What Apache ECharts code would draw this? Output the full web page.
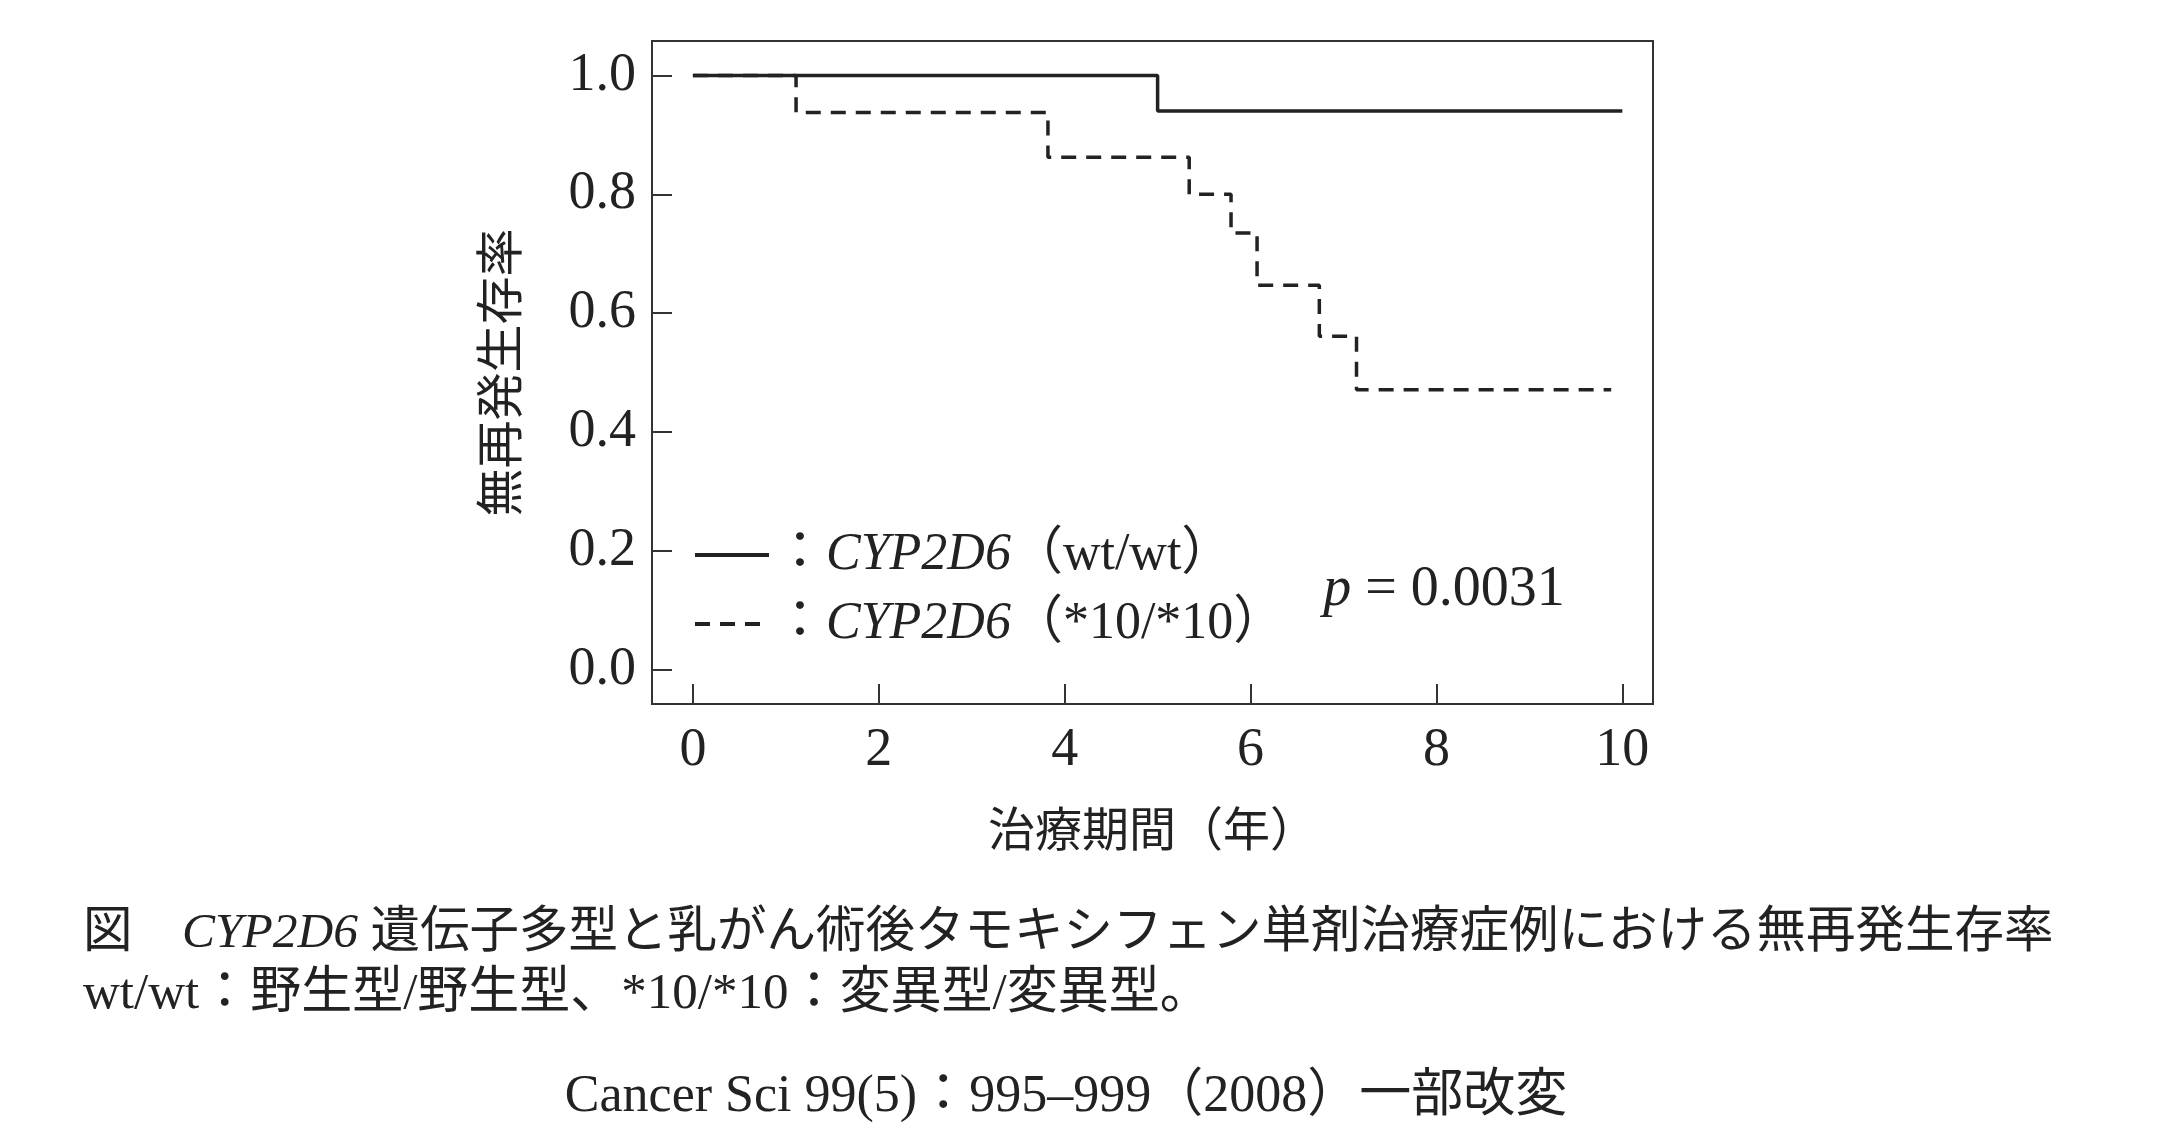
<!DOCTYPE html>
<html>
<head>
<meta charset="utf-8">
<script src="https://cdn.jsdelivr.net/npm/echarts/dist/echarts.min.js"></script>
<style>
  body { margin: 0; background: #fff; }
  #chart { width: 2160px; height: 1144px; }
</style>
</head>
<body>
<div id="chart"></div>
<script>
// 治療期間（年）と無再発生存率
const wtTimes = [0, 5.0, 10.0]
const wtSurv = [1.0, 0.94, 0.94]
const mutTimes = [0, 1.11, 3.82, 5.34, 5.79, 6.07, 6.74, 7.14, 9.88]
const mutSurv = [1.0, 0.9375, 0.8625, 0.80, 0.735, 0.647, 0.561, 0.471, 0.471]
const xTicks = [0, 2, 4, 6, 8, 10]
const yTicks = [0, 0.2, 0.4, 0.6, 0.8, 1.0]
const seriesNames = ['wt/wt', '*10/*10']

const serif = "'Liberation Serif', 'Noto Sans CJK JP', serif"
const ink = '#222'

const myChart = echarts.init(document.getElementById('chart'))

let option = {
  backgroundColor: '#fff',
  animation: false,
  grid: {
    left: 652,
    right: 507,
    top: 41,
    bottom: 440,
    show: true,
    borderColor: '#333',
    borderWidth: 2
  },
  legend: {
    orient: 'vertical',
    left: 688,
    top: 520,
    itemWidth: 74,
    itemHeight: 20,
    itemGap: 9,
    data: seriesNames,
    itemStyle: {opacity: 0},
    lineStyle: {width: 4},
    formatter: function (name) {
      return '：{i|CYP2D6}（' + name + '）'
    },
    textStyle: {
      fontFamily: serif,
      fontSize: 52,
      lineHeight: 60,
      color: ink,
      rich: {
        i: {fontFamily: serif, fontStyle: 'italic', fontSize: 52, color: ink}
      }
    }
  },
  xAxis: {
    type: 'value',
    min: -0.44,
    max: 10.33,
    name: '治療期間（年）',
    nameLocation: 'middle',
    nameGap: 106,
    nameTextStyle: {fontFamily: serif, fontSize: 47, color: ink},
    axisLine: {show: false, onZero: false},
    splitLine: {show: false},
    axisTick: {
      inside: true,
      length: 20,
      customValues: xTicks,
      lineStyle: {color: '#333', width: 2}
    },
    axisLabel: {
      customValues: xTicks,
      margin: 20,
      fontFamily: serif,
      fontSize: 54,
      color: ink
    }
  },
  yAxis: {
    type: 'value',
    min: -0.058,
    max: 1.058,
    name: '無再発生存率',
    nameLocation: 'middle',
    nameGap: 124,
    nameTextStyle: {fontFamily: serif, fontSize: 48, color: ink},
    axisLine: {show: false, onZero: false},
    splitLine: {show: false},
    axisTick: {
      inside: true,
      length: 20,
      customValues: yTicks,
      lineStyle: {color: '#333', width: 2}
    },
    axisLabel: {
      customValues: yTicks,
      margin: 16,
      fontFamily: serif,
      fontSize: 54,
      color: ink,
      formatter: v => v.toFixed(1)
    }
  },
  graphic: [
    {
      type: 'text',
      x: 1444,
      y: 590,
      style: {
        text: '{i|p} = 0.0031',
        font: '56px ' + serif,
        fill: ink,
        align: 'center',
        verticalAlign: 'middle',
        rich: {i: {fontFamily: serif, fontStyle: 'italic', fontSize: 56, fill: ink}}
      }
    },
    {
      type: 'text',
      x: 83,
      y: 934,
      style: {
        text: '図　{i|CYP2D6} 遺伝子多型と乳がん術後タモキシフェン単剤治療症例における無再発生存率',
        font: '49.5px ' + serif,
        fill: ink,
        verticalAlign: 'middle',
        rich: {i: {fontFamily: serif, fontStyle: 'italic', fontSize: 49.5, fill: ink}}
      }
    },
    {
      type: 'text',
      x: 83,
      y: 995,
      style: {
        text: 'wt/wt：野生型/野生型、*10/*10：変異型/変異型。',
        font: '51px ' + serif,
        fill: ink,
        verticalAlign: 'middle'
      }
    },
    {
      type: 'text',
      x: 1066,
      y: 1097,
      style: {
        text: 'Cancer Sci 99(5)：995–999（2008）一部改変',
        font: '52px ' + serif,
        fill: ink,
        align: 'center',
        verticalAlign: 'middle'
      }
    }
  ],
  series: [
    {
      name: seriesNames[0],
      type: 'line',
      step: 'end',
      symbol: 'none',
      data: wtTimes.map((t, i) => [t, wtSurv[i]]),
      lineStyle: {color: ink, width: 3.5, type: 'solid'},
      itemStyle: {color: ink}
    },
    {
      name: seriesNames[1],
      type: 'line',
      step: 'end',
      symbol: 'none',
      data: mutTimes.map((t, i) => [t, mutSurv[i]]),
      lineStyle: {color: ink, width: 3.5, type: [15, 10]},
      itemStyle: {color: ink}
    }
  ]
}
option && myChart.setOption(option)
</script>
</body>
</html>
